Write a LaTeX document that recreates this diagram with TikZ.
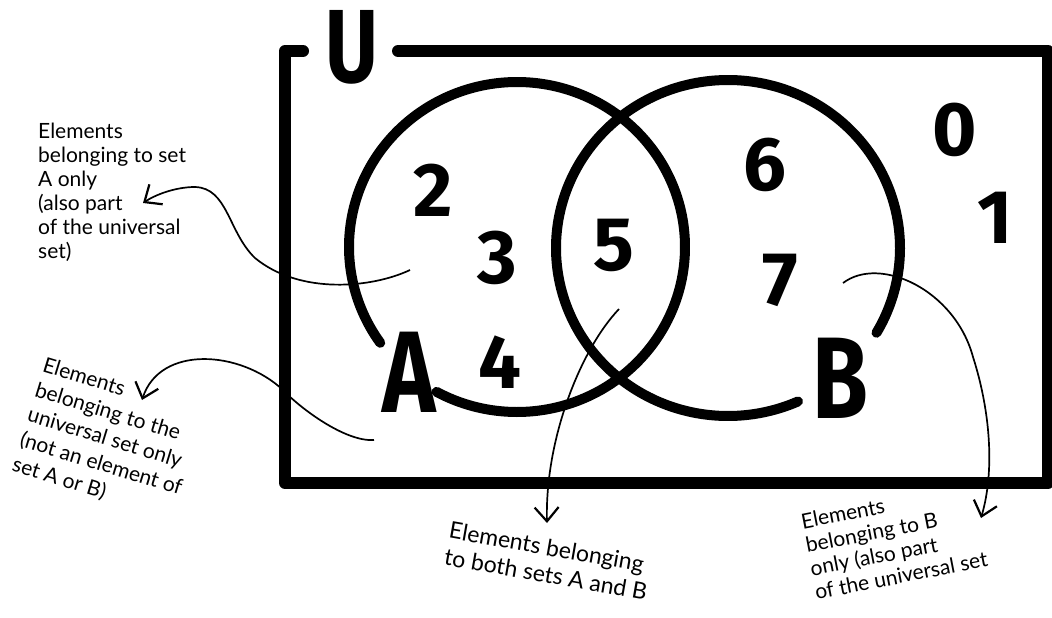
\documentclass[tikz,border=0pt]{standalone}
\usepackage{fontspec}
\setmainfont{Lato}
\newfontfamily\markfont{Fira Sans}
\usetikzlibrary{arrows.meta}
\begin{document}
\begin{tikzpicture}[x=1pt,y=-1pt,
  frame/.style={line width=12pt, line cap=round, line join=round},
  ring/.style={line width=10pt, line cap=round},
  note/.style={align=left, inner sep=0pt, font=\fontsize{21}{24}\selectfont},
  conn/.style={line width=1.7pt, -{Straight Barb[length=14pt,width=24pt,line width=2.2pt]}},
  digit/.style={inner sep=0pt, font=\markfont\bfseries\fontsize{76}{80}\selectfont},
  setlabel/.style={inner sep=0pt, xscale=0.78, font=\markfont\bfseries\fontsize{116}{120}\selectfont}]
\useasboundingbox (0,0) rectangle (1052,618);

% universal set frame
\draw[frame] (303,51) -- (285,51) -- (285,483) -- (1048,483) -- (1048,51) -- (398,51);
\node[setlabel, font=\markfont\bfseries\fontsize{104}{106}\selectfont] (U) at (352,47) {U};

% sets A and B
\draw[ring] plot[domain=241.4:575.5, samples=200, smooth] ({517+168*cos(\x)},{247-165*sin(\x)});
\draw[ring] plot[domain=-30.3:294, samples=200, smooth] ({728+172*cos(\x)},{248-168*sin(\x)});
\node[setlabel] (A) at (409,372) {A};
\node[setlabel] (B) at (840,378) {B};

% elements
\node[digit] (n2) at (433,190) {2};
\node[digit] (n3) at (497,258) {3};
\node[digit] (n4) at (500,362) {4};
\node[digit] (n5) at (614,245) {5};
\node[digit] (n6) at (765,165) {6};
\node[digit] (n7) at (780,280) {7};
\node[digit] (n0) at (955,130) {0};
\node[digit] (n1) at (995,218) {1};

% annotations
\node[note, anchor=west] (tA) at (38,192) {Elements\\belonging to set\\A only\\(also part\\of the universal\\set)};
\node[note, anchor=west, rotate=-17, font=\fontsize{21}{26}\selectfont] (tU) at (28,415) {Elements\\belonging to the\\universal set only\\(not an element of\\set A or B)};
\node[note, anchor=west, rotate=-10, font=\fontsize{23}{27}\selectfont] (tAB) at (447,543) {Elements belonging\\to both sets A and B};
\node[note, anchor=west, rotate=11] (tB) at (808,557) {Elements\\belonging to B\\only (also part\\of the universal set};

% connector ends
\coordinate (sA) at (410,270);
\coordinate (tipA) at (143,203);
\coordinate (sU) at (374,440);
\coordinate (tipU) at (142,400);
\coordinate (sAB) at (619,309);
\coordinate (tipAB) at (547,523);
\coordinate (sB) at (843,283);
\coordinate (tipB) at (981,518);

\draw[conn] (sA) .. controls (372,288) and (300,295) .. (255,258)
  .. controls (228,232) and (228,188) .. (195,187)
  .. controls (175,187) and (155,195) .. (tipA);
\draw[conn] (sU) .. controls (345,442) and (300,408) .. (283,390)
  .. controls (240,350) and (160,345) .. (tipU);
\draw[conn] (sAB) .. controls (580,350) and (545,440) .. (tipAB);
\draw[conn] (sB) .. controls (880,255) and (955,290) .. (973,357)
  .. controls (990,410) and (995,470) .. (tipB);
\end{tikzpicture}
\end{document}
